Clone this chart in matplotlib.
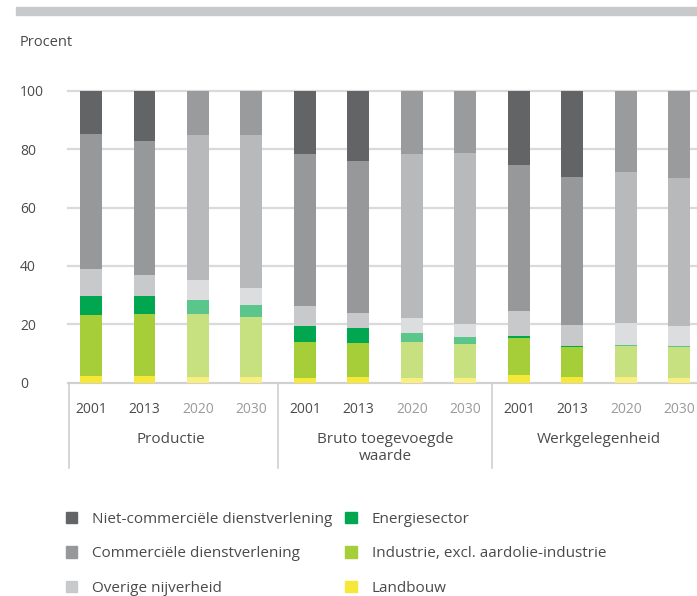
import matplotlib.pyplot as plt
from matplotlib.patches import Patch, Rectangle

jaren = ["2001", "2013", "2020", "2030"] * 3
groepen = ["Productie", "Bruto toegevoegde\nwaarde", "Werkgelegenheid"]
prognose = [False, False, True, True] * 3

# aandelen in procent, van onder naar boven
landbouw = [2.2, 2.2, 2.0, 2.0, 1.5, 1.9, 1.5, 1.5, 2.6, 1.9, 1.9, 1.5]
industrie = [21.0, 21.3, 21.5, 20.5, 12.4, 11.6, 12.4, 11.7, 12.7, 10.3, 10.6, 10.7]
energie = [6.5, 6.2, 4.8, 4.1, 5.5, 5.2, 3.1, 2.4, 0.7, 0.3, 0.3, 0.3]
overige = [9.2, 7.2, 6.9, 5.8, 6.8, 5.1, 5.1, 4.4, 8.5, 7.2, 7.6, 6.9]
commercieel = [46.3, 45.9, 49.7, 52.5, 52.2, 52.2, 56.3, 58.7, 50.1, 50.8, 51.8, 50.8]
niet_commercieel = [14.8, 17.2, 15.1, 15.1, 21.6, 24.0, 21.6, 21.3, 25.4, 29.5, 27.8, 29.8]

reeksen = [landbouw, industrie, energie, overige, commercieel, niet_commercieel]
namen = ["Landbouw", "Industrie, excl. aardolie-industrie", "Energiesector",
         "Overige nijverheid", "Commerciële dienstverlening",
         "Niet-commerciële dienstverlening"]
kleuren = ["#f6e838", "#a6ce39", "#00a650", "#c8c9cb", "#97989a", "#636466"]
kleuren_licht = ["#f8ef80", "#c7e080", "#5bc68b", "#dcdddf", "#b8b9bb", "#9a9b9d"]

tekst = "#4a4a4c"
plt.rcParams['font.family'] = ['Open Sans', 'DejaVu Sans']

fig = plt.figure(figsize=(6.97, 5.96), dpi=100)
ax = fig.add_axes([68 / 697, 1 - 382.5 / 596, 1 - 68 / 697, (382.5 - 91) / 596])

x = list(range(len(jaren)))
onder = [0.0] * len(jaren)
for reeks, k, kl in zip(reeksen, kleuren, kleuren_licht):
    cols = [kl if p else k for p in prognose]
    ax.bar(x, reeks, bottom=onder, width=0.41, color=cols, zorder=3)
    onder = [o + v for o, v in zip(onder, reeks)]

ax.set_xlim(-0.43, 11.33)
ax.set_ylim(0, 100)
ax.set_yticks([0, 20, 40, 60, 80, 100])
ax.yaxis.grid(True, color="#dadada", linewidth=1.6, zorder=0)
for gl in ax.get_ygridlines():
    gl.set_clip_on(False)
ax.tick_params(axis="y", length=0, pad=34.5, labelsize=10, labelcolor=tekst)
for lab in ax.get_yticklabels():
    lab.set_horizontalalignment("left")

ax.set_xticks(x, jaren)
ax.tick_params(axis="x", length=0, pad=14, labelsize=10)
for lab, p in zip(ax.get_xticklabels(), prognose):
    lab.set_color("#9a9a9a" if p else tekst)

for s in ["top", "right", "left"]:
    ax.spines[s].set_visible(False)
ax.spines["bottom"].set_color("#cfcfcf")
ax.spines["bottom"].set_linewidth(1.2)

# scheidingslijnen onder de as
for xs in [-0.41, 3.5, 7.5]:
    ax.plot([xs, xs], [0, -29.5], color="#cfcfcf", linewidth=1.2, clip_on=False)
for i, g in enumerate(groepen):
    ax.text(4 * i + 1.5, -17.0, g, ha="center", va="top", fontsize=11,
            color=tekst, linespacing=1.2)

fig.add_artist(Rectangle((16 / 697, 1 - 15 / 596), 1, 8 / 596,
                         transform=fig.transFigure, color="#c8c9cb"))
fig.text(20 / 697, 1 - 42 / 596, "Procent", fontsize=10.5, color=tekst,
         va="center", ha="left")

handles = [Patch(color=kleuren[i]) for i in [5, 4, 3, 2, 1, 0]]
labels = [namen[i] for i in [5, 4, 3, 2, 1, 0]]
fig.legend(handles, labels, ncol=2, loc="upper left",
           bbox_to_anchor=(52 / 697, 1 - 498 / 596), frameon=False,
           fontsize=11, handlelength=0.75, handleheight=0.75,
           handletextpad=1.0, labelspacing=1.28, columnspacing=0.8,
           labelcolor=tekst)

fig.savefig("out.png", dpi=100)
